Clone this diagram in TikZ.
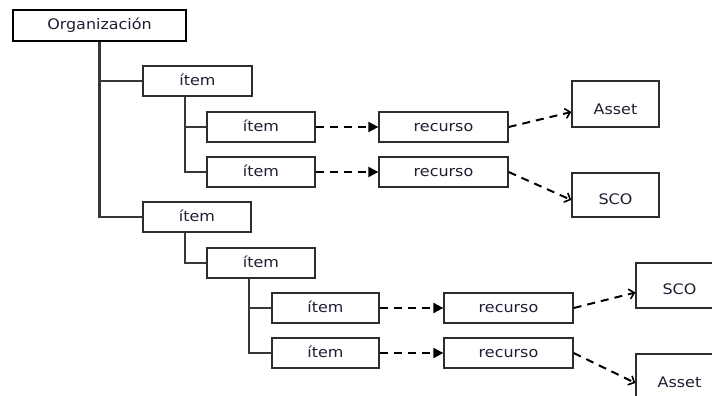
\documentclass[tikz,border=0pt]{standalone}
\usepackage{fontspec}
\setmainfont{DejaVu Sans}[FakeStretch=1.1]
\usepackage{tikz}
\usetikzlibrary{arrows.meta}
\definecolor{txt}{RGB}{30,30,50}
\definecolor{rand}{RGB}{45,45,45}
\definecolor{boom}{RGB}{55,55,55}

\tikzset{
  box/.style={draw=rand,line width=1.3pt,fill=white,minimum height=30pt,
    inner sep=0pt,text=txt,font=\fontsize{14.5}{16}\selectfont,
    text height=9pt,text depth=1pt},
  itembox/.style={box,minimum width=108pt},
  recbox/.style={box,minimum width=129pt},
  endbox/.style={box,minimum width=87pt,minimum height=45pt},
  tak/.style={draw=boom,line width=2.2pt},
  ref/.style={line width=2pt,dash pattern=on 8pt off 6pt,
    -{Triangle[length=10pt,width=10pt]}},
  lnk/.style={line width=2pt,dash pattern=on 8pt off 6pt,
    -{Straight Barb[length=5pt,width=10pt,line width=1.6pt]}}
}

\begin{document}
\begin{tikzpicture}[x=1pt,y=-1pt]
  \useasboundingbox (0,0) rectangle (712,396);
  \clip (0,0) rectangle (712,396);
  \fill[white] (0,0) rectangle (712,396);

  % tree
  \node[box,draw=black,line width=2.5pt,minimum width=173pt,minimum height=31pt] (org) at (99.5,25.5) {Organización};

  \node[itembox,minimum width=109pt] (i1) at (197.5,81) {ítem};
  \node[itembox] (i11) at (261,127) {ítem};
  \node[itembox] (i12) at (261,172) {ítem};

  \node[itembox] (i2) at (197,217) {ítem};
  \node[itembox] (i21) at (261,263) {ítem};
  \node[itembox,minimum width=107pt] (i211) at (325.5,308) {ítem};
  \node[itembox,minimum width=107pt] (i212) at (325.5,353) {ítem};

  % resources
  \node[recbox] (r1) at (443.5,127) {recurso};
  \node[recbox] (r2) at (443.5,172) {recurso};
  \node[recbox] (r3) at (508.5,308) {recurso};
  \node[recbox] (r4) at (508.5,353) {recurso};

  \node[endbox,minimum height=46pt] (a1) at (615.5,104) {\raisebox{-6pt}{Asset}};
  \node[endbox,minimum height=44pt] (s1) at (615.5,195) {\raisebox{-5pt}{SCO}};
  \node[endbox] (s2) at (679.5,285.5) {\raisebox{-5pt}{SCO}};
  \node[endbox,minimum height=46pt] (a2) at (679.5,377) {\raisebox{-6pt}{Asset}};

  % tree lines
  \draw[tak] (org.south) |- (i1.west);
  \draw[tak] (org.south) |- (i2.west);
  \draw[tak] (i1.south west) ++(43,0) |- (i11.west);
  \draw[tak] (i1.south west) ++(43,0) |- (i12.west);
  \draw[tak] (i2.south west) ++(43,0) |- (i21.west);
  \draw[tak] (i21.south west) ++(43,0) |- (i211.west);
  \draw[tak] (i21.south west) ++(43,0) |- (i212.west);

  % references
  \draw[ref] (i11) -- (r1);
  \draw[ref] (i12) -- (r2);
  \draw[ref] (i211) -- (r3);
  \draw[ref] (i212) -- (r4);

  \draw[lnk] (r1.east) -- ([yshift=-8pt]a1.west);
  \draw[lnk] (r2.east) -- ([yshift=-5pt]s1.west);
  \draw[lnk] (r3.east) -- ([yshift=-7pt]s2.west);
  \draw[lnk] (r4.east) -- ([yshift=-6pt]a2.west);
\end{tikzpicture}
\end{document}
